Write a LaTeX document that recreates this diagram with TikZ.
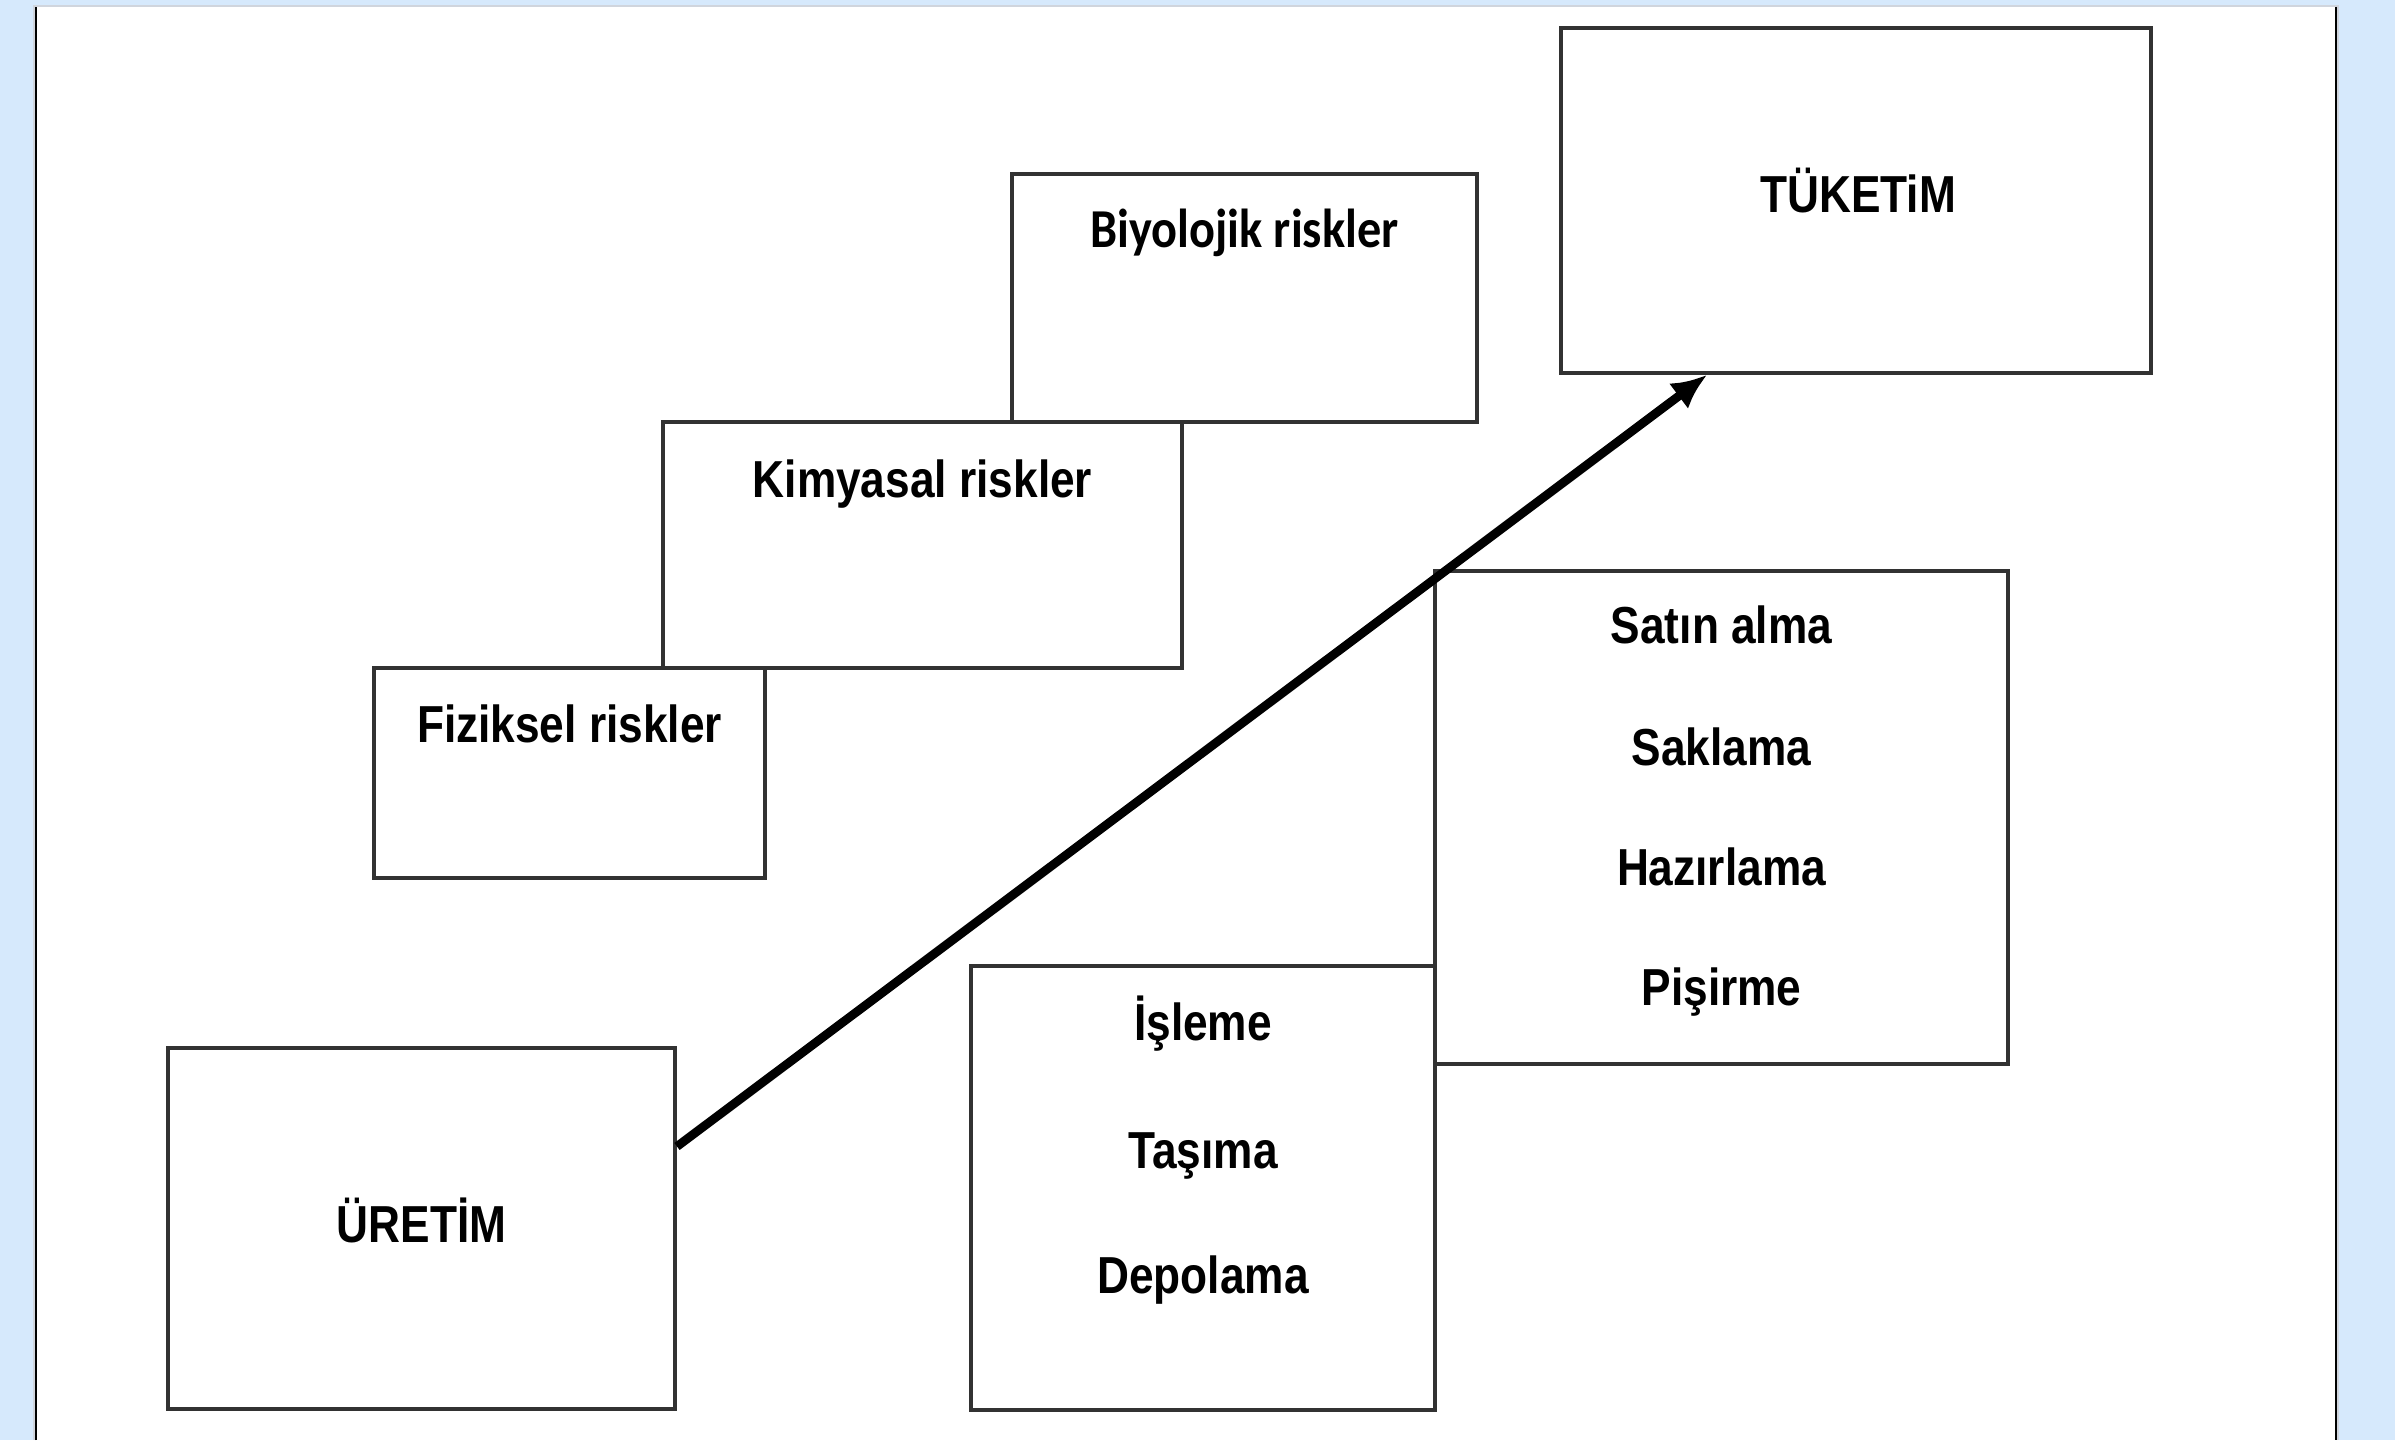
\documentclass[tikz,border=0pt]{standalone}
\usepackage{fontspec}
\usetikzlibrary{arrows.meta}
\newfontfamily\labfont[FakeStretch=0.85]{Liberation Sans}
\newfontfamily\biofont[FakeStretch=0.88]{Carlito}
\definecolor{bgblue}{RGB}{214,233,252}
\definecolor{boxc}{RGB}{50,50,50}
\definecolor{shade}{RGB}{160,172,186}
\tikzset{
  box/.style={draw=boxc, line width=1.05pt, rectangle, inner sep=0pt},
  lbl/.style={inner sep=0pt, anchor=base, text=black, font=\labfont\bfseries\fontsize{14.8pt}{18pt}\selectfont},
  biolbl/.style={inner sep=0pt, anchor=base, text=black, font=\biofont\bfseries\fontsize{15.6pt}{18pt}\selectfont},
  flow/.style={line width=2.5pt, -{Latex[length=10pt,width=9pt]}}
}
\begin{document}
\begin{tikzpicture}[x=0.01cm, y=-0.01cm]
% background and panel
\fill[bgblue] (0,0) rectangle (2395,1440);
\useasboundingbox (0,0) rectangle (2395,1440);
\fill[shade!50] (33,5) rectangle (2339,1440);
\fill[white] (37,7) rectangle (2335,1440);
\draw[shade, line width=0.6pt] (36,1440) -- (36,7);
\draw[shade, line width=0.6pt] (2336,7) -- (2336,1440);

% boxes
\node[box, minimum width=5.90cm, minimum height=3.45cm] (tk) at (1856,200.5) {};
\node[box, minimum width=4.65cm, minimum height=2.48cm] (bio) at (1244.5,298) {};
\node[box, minimum width=5.19cm, minimum height=2.46cm] (kim) at (922.5,545) {};
\node[box, minimum width=3.91cm, minimum height=2.10cm] (fiz) at (569.5,773) {};
\node[box, minimum width=5.07cm, minimum height=3.61cm] (ur) at (421.5,1228.5) {};
\node[box, minimum width=5.73cm, minimum height=4.93cm] (sat) at (1721.5,817.5) {};
\node[box, minimum width=4.64cm, minimum height=4.44cm] (isl) at (1203,1188) {};

% labels
\node[lbl] (tkT) at (1858,213) {TÜKETiM};
\node[biolbl] (bioT) at (1244.5,248) {Biyolojik riskler};
\node[lbl] (kimT) at (922.5,498) {Kimyasal riskler};
\node[lbl] (fizT) at (569.5,742) {Fiziksel riskler};
\node[lbl] (urT) at (421.5,1242) {ÜRETİM};
\node[lbl] (sat1) at (1721.5,643) {Satın alma};
\node[lbl] (sat2) at (1721.5,765) {Saklama};
\node[lbl] (sat3) at (1721.5,885) {Hazırlama};
\node[lbl] (sat4) at (1721.5,1005) {Pişirme};
\node[lbl] (isl1) at (1203,1040) {İşleme};
\node[lbl] (isl2) at (1203,1168) {Taşıma};
\node[lbl] (isl3) at (1203,1293) {Depolama};

% arrow
\draw[flow] ([yshift=0.82cm]ur.east) -- ([xshift=-1.49cm]tk.south);
\end{tikzpicture}
\end{document}
